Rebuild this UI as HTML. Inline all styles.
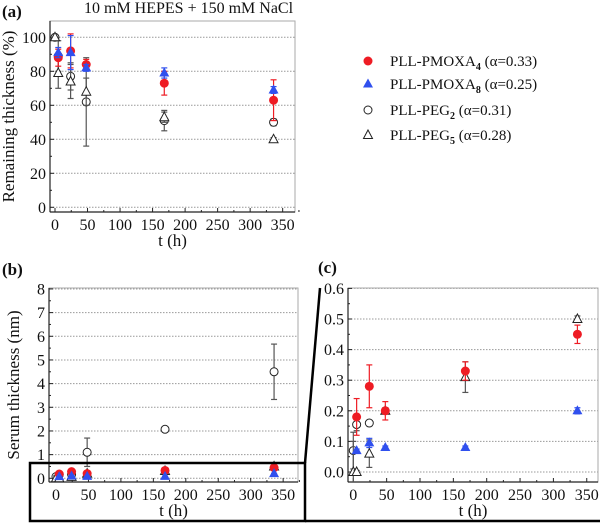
<!DOCTYPE html>
<html><head><meta charset="utf-8">
<style>
html,body{margin:0;padding:0;background:#fff;}
svg{display:block;font-family:"Liberation Serif","DejaVu Serif",serif;}
</style></head>
<body>
<svg id="chart" width="600" height="525" viewBox="0 0 600 525" xmlns="http://www.w3.org/2000/svg">
<defs>
<clipPath id="clipC"><rect x="348" y="288" width="250" height="194"/></clipPath>
</defs>
<g id="root"></g>
</svg>
<script>
// ---- data ----
const timesA = [0, 5, 24, 48, 168, 336];
const remPMOXA4 = [null, 88, 92, 84, 73, 63];
const remPMOXA4Err = [null, 5, 10, 3, 7, 12];
const remPMOXA8 = [null, 91, 91, 82, 79, 69];
const remPMOXA8Err = [null, 3, 10, 2, 3, 2];
const remPEG2 = [100, 89, 77, 62, 51, 50];
const remPEG2Err = [0, 9, 8, 26, 6, 2];
const remPEG5 = [100, 79, 74, 68, 53, 40];
const remPEG5Err = [0, 9, 10, 8, 3, 1];

const timesS = [0, 5, 24, 48, 168, 336];
const serPMOXA4 = [null, 0.18, 0.28, 0.20, 0.33, 0.45];
const serPMOXA4Err = [null, 0.06, 0.07, 0.03, 0.03, 0.03];
const serPMOXA8 = [null, 0.07, 0.095, 0.08, 0.08, 0.20];
const serPMOXA8Err = [null, 0.005, 0.015, 0.005, 0.005, 0.01];
const serPEG2 = [0.07, 0.155, 0.16, 1.1, 2.07, 4.5];
const serPEG2Err = [0.06, 0.02, 0.005, 0.6, 0.05, 1.17];
const serPEG5 = [0, 0, 0.06, 0.2, 0.31, 0.5];
const serPEG5Err = [0.1, 0.005, 0.045, 0.01, 0.05, 0.01];

const xTicks = [0, 50, 100, 150, 200, 250, 300, 350];
const yTicksA = [0, 20, 40, 60, 80, 100];
const yTicksB = [0, 1, 2, 3, 4, 5, 6, 7, 8];
const yTicksC = ["0.0", "0.1", "0.2", "0.3", "0.4", "0.5", "0.6"];
const legendLabels = [["PLL-PMOXA", "4", " (α=0.33)"], ["PLL-PMOXA", "8", " (α=0.25)"], ["PLL-PEG", "2", " (α=0.31)"], ["PLL-PEG", "5", " (α=0.28)"]];

const NS = "http://www.w3.org/2000/svg";
const root = document.getElementById('root');
function mk(tag, attrs, parent) {
  const e = document.createElementNS(NS, tag);
  for (const k in attrs) e.setAttribute(k, attrs[k]);
  (parent || root).appendChild(e);
  return e;
}
const RED = "#ee1c24", BLUE = "#3050ee";

function marker(kind, x, y, g) {
  let e;
  if (kind === 0) e = mk('circle', {cx: x, cy: y, r: 4.5, fill: RED}, g);
  else if (kind === 1) e = mk('path', {d: `M${x},${y-5.5}L${x+5},${y+3.5}L${x-5},${y+3.5}Z`, fill: BLUE}, g);
  else if (kind === 2) e = mk('circle', {cx: x, cy: y, r: 4, fill: "#fff", stroke: "#222", "stroke-width": 1}, g);
  else e = mk('path', {d: `M${x},${y-5}L${x+4.5},${y+3.5}L${x-4.5},${y+3.5}Z`, fill: "#fff", stroke: "#222", "stroke-width": 1}, g);
  return e;
}

function panel(cfg) {
  const g = mk('g', {});
  
  
  const X = t => cfg.x0 + t * cfg.sx;
  const Y = v => cfg.y0 - v * cfg.sy;
  cfg.yTicks.forEach(v => {
    const vv = parseFloat(v);
    const gl = mk('line', {x1: cfg.L, x2: cfg.R, y1: Y(vv), y2: Y(vv), stroke: "#999", "stroke-width": 1, "stroke-dasharray": "1.5,1.5"}, g);
    
    
  });
  const fr = mk('rect', {x: cfg.L, y: cfg.T, width: cfg.R - cfg.L, height: cfg.B - cfg.T, fill: "none", stroke: "#aaa", "stroke-width": 1}, g);
  
  
  mk('line', {x1: cfg.L, x2: cfg.L, y1: cfg.T, y2: cfg.B, stroke: "#222", "stroke-width": 1.2}, g);
  mk('line', {x1: cfg.L, x2: cfg.R, y1: cfg.B, y2: cfg.B, stroke: "#222", "stroke-width": 1.2}, g);
  cfg.yTicks.forEach((v, i) => {
    const vv = parseFloat(v);
    mk('line', {x1: cfg.L, x2: cfg.L + 4, y1: Y(vv), y2: Y(vv), stroke: "#222"}, g);
    if (i < cfg.yTicks.length - 1) {
      const m = (vv + parseFloat(cfg.yTicks[i + 1])) / 2;
      mk('line', {x1: cfg.L, x2: cfg.L + 2, y1: Y(m), y2: Y(m), stroke: "#222"}, g);
    }
    const t = mk('text', {x: cfg.L - 4, y: Y(vv) + 5.5, "text-anchor": "end", "font-size": 16, fill: "#111"}, g);
    t.textContent = v;
    
    
  });
  xTicks.forEach((v, i) => {
    mk('line', {x1: X(v), x2: X(v), y1: cfg.B, y2: cfg.B - 4, stroke: "#222"}, g);
    mk('line', {x1: X(v + 25), x2: X(v + 25), y1: cfg.B, y2: cfg.B - 2, stroke: "#222"}, g);
    const t = mk('text', {x: X(v), y: cfg.B + 18, "text-anchor": "middle", "font-size": 16, fill: "#111"}, g);
    t.textContent = v;
    
    
  });
  const xl = mk('text', {x: (cfg.L + cfg.R) / 2, y: cfg.B + 34, "text-anchor": "middle", "font-size": 17, fill: "#111"}, g);
  xl.textContent = "t (h)";
  
  
  if (cfg.ylabel) {
    const yl = mk('text', {x: 0, y: 0, "text-anchor": "middle", "font-size": 17, fill: "#111", transform: `translate(${cfg.ylx},${(cfg.T + cfg.B) / 2}) rotate(-90)`}, g);
    yl.textContent = cfg.ylabel;
    
    
  }
  const dg = mk('g', cfg.clip ? {"clip-path": "url(#clipC)"} : {}, g);
  const order = [2, 3, 0, 1];
  order.forEach(k => {
    const vals = cfg.series[k], errs = cfg.errs[k];
    const col = k === 0 ? RED : k === 1 ? BLUE : "#555";
    const sg = mk('g', {}, dg);
    
    
    cfg.times.forEach((t, i) => {
      const v = vals[i];
      if (v === null) return;
      if (cfg.ymax !== undefined && v > cfg.ymax) return;
      const e = errs[i] || 0;
      if (e > 0) {
        const x = X(t);
        mk('line', {x1: x, x2: x, y1: Y(v - e), y2: Y(v + e), stroke: col, "stroke-width": 1.2}, sg);
        mk('line', {x1: x - 3, x2: x + 3, y1: Y(v - e), y2: Y(v - e), stroke: col, "stroke-width": 1.2}, sg);
        mk('line', {x1: x - 3, x2: x + 3, y1: Y(v + e), y2: Y(v + e), stroke: col, "stroke-width": 1.2}, sg);
      }
      const m = marker(k, X(t), Y(v), sg);
      
      
    });
  });
}

panel({name: 'panel-a', L: 50, R: 295, T: 21, B: 212, x0: 55, sx: 0.6505, y0: 207.3, sy: 1.7,
  yTicks: yTicksA, ylabel: "Remaining thickness (%)", ylx: 14, times: timesA,
  series: [remPMOXA4, remPMOXA8, remPEG2, remPEG5], errs: [remPMOXA4Err, remPMOXA8Err, remPEG2Err, remPEG5Err]});
panel({name: 'panel-b', L: 49, R: 298, T: 288, B: 482, x0: 56, sx: 0.649, y0: 478.3, sy: 23.67,
  yTicks: yTicksB, ylabel: "Serum thickness (nm)", ylx: 19, times: timesS,
  series: [serPMOXA4, serPMOXA8, serPEG2, serPEG5], errs: [serPMOXA4Err, serPMOXA8Err, serPEG2Err, serPEG5Err]});
panel({name: 'panel-c', L: 348, R: 598, T: 288, B: 482, x0: 353.3, sx: 0.667, y0: 472, sy: 306, clip: true, ymax: 0.6,
  yTicks: yTicksC, ylabel: null, times: timesS,
  series: [serPMOXA4, serPMOXA8, serPEG2, serPEG5], errs: [serPMOXA4Err, serPMOXA8Err, serPEG2Err, serPEG5Err]});

[["(a)", 2, 17], ["(b)", 2, 275], ["(c)", 318, 273]].forEach(([s, x, y]) => {
  const t = mk('text', {x: x, y: y, "font-size": 17, "font-weight": "bold", fill: "#111"});
  t.textContent = s;
  
  
});
const ttl = mk('text', {x: 84, y: 13, "font-size": 16, fill: "#111"});
ttl.textContent = "10 mM HEPES + 150 mM NaCl";



const zb = mk('rect', {x: 30, y: 463, width: 275, height: 58, fill: "none", stroke: "#000", "stroke-width": 2.5});


const zl1 = mk('line', {x1: 305, y1: 463, x2: 320, y2: 288, stroke: "#000", "stroke-width": 2.5});


const zl2 = mk('line', {x1: 305, y1: 521, x2: 600, y2: 521, stroke: "#000", "stroke-width": 2.5});



const lg = mk('g', {});


const rowsY = [61, 84, 110, 135];
legendLabels.forEach((lab, k) => {
  const eg = mk('g', {}, lg);
  
  
  marker(k, 368, rowsY[k], eg);
  const t = mk('text', {x: 390, y: rowsY[k] + 5, "font-size": 15, fill: "#111"}, eg);
  const a = mk('tspan', {}, t); a.textContent = lab[0];
  const b = mk('tspan', {dy: 4, "font-size": 10, "font-weight": "bold"}, t); b.textContent = lab[1];
  const c = mk('tspan', {dy: -4}, t); c.textContent = lab[2];
});
</script>
</body></html>
